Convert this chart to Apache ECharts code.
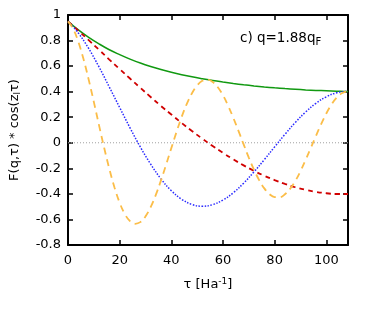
<!DOCTYPE html>
<html>
<head>
<meta charset="utf-8">
<script src="https://cdn.jsdelivr.net/npm/echarts@6/dist/echarts.min.js"></script>
<style>
html,body{margin:0;padding:0;background:#fff;}
#c{width:374px;height:309px;}
</style>
</head>
<body>
<div id="c"></div>
<script>
// tau sample points
const tauCoarse = [0,4,8,12,16,20,24,28,32,36,40,44,48,52,56,60,64,68,72,76,80,84,88,92,96,100,104,108,108.4];
const tauFine = [0,2,4,6,8,10,12,14,16,18,20,22,24,26,28,30,32,34,36,38,40,42,44,46,48,50,52,54,56,58,60,62,64,66,68,70,72,74,76,78,80,82,84,86,88,90,92,94,96,98,100,102,104,106,108,108.4];
// series values
const greenVals = [0.950,0.883,0.825,0.774,0.728,0.690,0.655,0.624,0.597,0.573,0.552,0.533,0.516,0.501,0.487,0.475,0.464,0.454,0.445,0.437,0.430,0.424,0.419,0.414,0.410,0.407,0.404,0.401,0.401];
const redVals = [0.950,0.877,0.803,0.728,0.651,0.577,0.503,0.430,0.358,0.288,0.221,0.155,0.092,0.032,-0.025,-0.079,-0.130,-0.177,-0.220,-0.258,-0.292,-0.322,-0.348,-0.368,-0.384,-0.395,-0.401,-0.401,-0.401];
const blueVals = [0.950,0.859,0.738,0.594,0.436,0.276,0.117,-0.033,-0.167,-0.283,-0.375,-0.442,-0.483,-0.497,-0.484,-0.448,-0.391,-0.316,-0.228,-0.132,-0.032,0.066,0.159,0.241,0.309,0.360,0.391,0.401,0.401];
const orangeVals = [0.950,0.891,0.790,0.655,0.495,0.320,0.138,-0.039,-0.204,-0.350,-0.469,-0.558,-0.613,-0.634,-0.621,-0.576,-0.503,-0.408,-0.294,-0.170,-0.042,0.084,0.202,0.305,0.388,0.449,0.485,0.494,0.476,0.435,0.372,0.290,0.195,0.093,-0.013,-0.116,-0.210,-0.292,-0.357,-0.402,-0.425,-0.426,-0.403,-0.360,-0.299,-0.222,-0.134,-0.041,0.054,0.146,0.229,0.299,0.353,0.387,0.401,0.401];
const xTicks = [0,20,40,60,80,100];
const yRange = [-0.8, 1];
const xRange = [0, 108.4];

function pairs(xs, ys){ return xs.map((x,i)=>[x, ys[i]]); }

const FONT = 'DejaVu Sans';
const chart = echarts.init(document.getElementById('c'), null, {renderer:'canvas'});

const frameLine = {show:true, onZero:false, lineStyle:{color:'#000', width:2}};
const ticks = {show:true, inside:true, length:5, lineStyle:{color:'#000', width:1.5}};

chart.setOption({
  animation:false,
  backgroundColor:'#fff',
  title:{
    text:'{a|c) q=1.88q}{b|F}',
    left:235, top:25, padding:5,
    textStyle:{
      fontFamily:FONT, color:'#000', fontWeight:'normal',
      rich:{
        a:{fontFamily:FONT, fontSize:13.5, color:'#000', fontWeight:'normal'},
        b:{fontFamily:FONT, fontSize:10, color:'#000', fontWeight:'normal', padding:[7,0,0,0]}
      }
    }
  },
  grid:{left:68, right:26, top:15, bottom:64},
  xAxis:[{
    type:'value', min:xRange[0], max:xRange[1], interval:20,
    axisLine:frameLine, axisTick:ticks, splitLine:{show:false},
    axisLabel:{show:true, margin:9, fontFamily:FONT, fontSize:13, color:'#000',
      showMaxLabel:false,
      formatter:function(v){ return xTicks.indexOf(v) >= 0 ? String(v) : ''; }},
    name:'τ [Ha{sup|-1}]', nameLocation:'middle', nameGap:32,
    nameTextStyle:{fontFamily:FONT, fontSize:13, color:'#000',
      rich:{sup:{fontFamily:FONT, fontSize:9, color:'#000', padding:[0,0,7,0]}}}
  },{
    type:'value', position:'top', min:xRange[0], max:xRange[1], interval:20,
    axisLine:frameLine, axisTick:ticks, splitLine:{show:false},
    axisLabel:{show:false}
  }],
  yAxis:[{
    type:'value', min:yRange[0], max:yRange[1], interval:0.2,
    axisLine:frameLine, axisTick:ticks, splitLine:{show:false},
    axisLabel:{show:true, margin:7, fontFamily:FONT, fontSize:13, color:'#000'},
    name:'F(q,τ) * cos(z{sub|l}τ)', nameLocation:'middle', nameGap:46, nameRotate:90,
    nameTextStyle:{fontFamily:FONT, fontSize:13, color:'#000',
      rich:{sub:{fontFamily:FONT, fontSize:9, color:'#000', padding:[6,0,0,0]}}}
  },{
    type:'value', position:'right', min:yRange[0], max:yRange[1], interval:0.2,
    axisLine:frameLine, axisTick:ticks, splitLine:{show:false},
    axisLabel:{show:false}
  }],
  series:[
    {type:'line', name:'zero', data:[[xRange[0],0],[xRange[1],0]], symbol:'none', silent:true,
      lineStyle:{color:'#a0a0a0', width:1, type:[1,2]}, z:1},
    {type:'line', name:'green', data:pairs(tauCoarse, greenVals), symbol:'none', smooth:0.4,
      lineStyle:{color:'#119911', width:1.5, type:'solid'}, z:2},
    {type:'line', name:'red', data:pairs(tauCoarse, redVals), symbol:'none', smooth:0.4,
      lineStyle:{color:'#d00000', width:1.8, type:[5,4]}, z:3},
    {type:'line', name:'blue', data:pairs(tauCoarse, blueVals), symbol:'none', smooth:0.4,
      lineStyle:{color:'#2a2aff', width:1.5, type:[1.5,1.5]}, z:4},
    {type:'line', name:'orange', data:pairs(tauFine, orangeVals), symbol:'none', smooth:0.4,
      lineStyle:{color:'#fbbd48', width:1.8, type:[7,5]}, z:5}
  ]
});
</script>
</body>
</html>
